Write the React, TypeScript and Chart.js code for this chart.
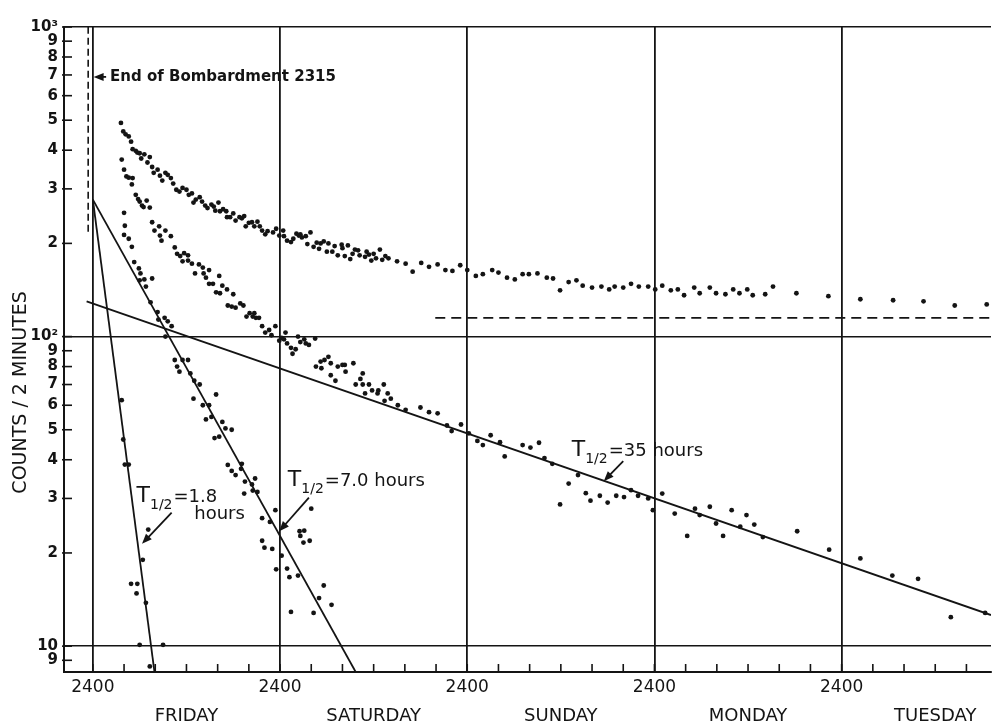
import React, { useEffect, useRef } from 'react';
import { Chart, registerables } from 'chart.js';

Chart.register(...registerables);

// ---------- axis / labels ----------
const DAY_NAMES = ['FRIDAY', 'SATURDAY', 'SUNDAY', 'MONDAY', 'TUESDAY'];
const MIDNIGHT_LABEL = '2400';
const X_MIN = -3.7;
const X_MAX = 115.15;
const Y_MIN = 8.25;
const Y_MAX = 1000;
const X_TICKS = [0, 4, 8, 12, 16, 20, 24, 28, 32, 36, 40, 44, 48, 52, 56, 60, 64, 68, 72, 76, 80, 84, 88, 92, 96, 100, 104, 108, 112];
const Y_TICKS = [9, 10, 20, 30, 40, 50, 60, 70, 80, 90, 100, 200, 300, 400, 500, 600, 700, 800, 900, 1000];
const Y_TITLE = 'COUNTS / 2 MINUTES';

// ---------- data (hours after Thursday 2400, counts / 2 minutes) ----------
const rawHours = [3.6, 3.9, 4.2, 4.6, 4.9, 5.1, 5.5, 5.7, 6.0, 6.2, 6.6, 7.0, 7.3, 7.6, 7.8, 8.3, 8.6, 8.9, 9.3, 9.6, 10.0, 10.3, 10.7, 11.1, 11.5, 12.0, 12.3, 12.7, 12.9, 13.2, 13.7, 14.0, 14.4, 14.7, 15.2, 15.5, 15.7, 16.1, 16.3, 16.7, 17.1, 17.2, 17.6, 18.0, 18.3, 18.8, 19.1, 19.4, 19.6, 20.0, 20.4, 20.7, 21.1, 21.4, 21.7, 22.1, 22.4, 23.1, 23.5, 23.9, 24.4, 24.5, 24.9, 25.4, 25.7, 26.1, 26.4, 26.6, 26.8, 27.3, 27.5, 27.9, 28.3, 28.7, 29.0, 29.2, 29.6, 30.0, 30.2, 30.7, 31.0, 31.4, 31.9, 32.0, 32.3, 32.7, 33.0, 33.3, 33.6, 34.0, 34.2, 34.9, 35.1, 35.4, 35.7, 36.0, 36.3, 36.8, 37.1, 37.5, 37.9, 39.0, 40.1, 41.0, 42.1, 43.1, 44.2, 45.2, 46.1, 47.1, 48.0, 49.1, 50.0, 51.2, 52.0, 53.1, 54.1, 55.1, 55.9, 57.0, 58.2, 59.0, 59.9, 61.0, 62.0, 62.8, 64.0, 65.2, 66.2, 66.9, 68.0, 69.0, 70.0, 71.2, 72.1, 73.0, 74.1, 75.0, 75.8, 77.1, 77.8, 79.1, 79.9, 81.1, 82.1, 82.9, 83.9, 84.6, 86.2, 87.2, 90.2, 94.3, 98.4, 102.6, 106.5, 110.5, 114.6];
const rawCounts = [490, 460, 450, 443, 426, 403, 398, 393, 391, 376, 388, 365, 380, 353, 338, 346, 331, 319, 338, 333, 325, 312, 298, 294, 302, 298, 287, 290, 271, 277, 282, 273, 265, 260, 267, 263, 255, 271, 254, 258, 254, 243, 243, 250, 237, 243, 241, 245, 227, 233, 234, 227, 235, 227, 220, 214, 219, 217, 223, 212, 220, 211, 204, 202, 207, 215, 212, 214, 209, 211, 199, 217, 195, 201, 192, 200, 203, 188, 200, 188, 196, 183, 198, 193, 182, 197, 178, 185, 191, 190, 183, 181, 188, 184, 176, 185, 179, 191, 177, 182, 179, 175, 172, 162, 173, 168, 171, 164, 163, 170, 164, 157, 159, 164, 161, 155, 153, 159, 159, 160, 155, 154, 141, 150, 152, 146, 144, 145, 142, 145, 144, 148, 145, 145, 142, 146, 141, 142, 136, 144, 138, 144, 138, 137, 142, 138, 142, 136, 137, 145, 138, 135, 132, 131, 130, 126, 127];

const netHours = [3.7, 4.0, 4.3, 4.6, 5.1, 5.0, 5.5, 5.8, 6.0, 6.3, 6.9, 7.3, 6.5, 7.6, 7.9, 8.5, 8.6, 8.8, 9.3, 10.0, 10.5, 10.8, 11.2, 11.7, 12.2, 11.5, 12.2, 12.7, 13.1, 13.6, 14.1, 14.2, 14.5, 14.9, 14.9, 15.4, 15.8, 16.2, 16.3, 16.6, 17.2, 18.0, 17.3, 17.8, 18.3, 18.9, 19.3, 19.7, 20.1, 20.5, 20.7, 20.9, 21.3, 21.7, 22.1, 22.6, 22.9, 23.4, 23.9, 24.2, 24.5, 24.7, 24.9, 25.4, 25.6, 26.0, 26.3, 26.6, 27.1, 27.3, 27.7, 28.5, 28.6, 29.3, 29.2, 29.7, 30.2, 30.5, 30.5, 31.1, 31.4, 32.0, 32.3, 32.4, 33.4, 33.7, 34.3, 34.6, 34.6, 34.9, 35.4, 35.8, 36.6, 36.5, 37.3, 37.4, 37.8, 38.2, 39.1, 40.1, 42.0, 43.1, 44.2, 45.4, 46.0, 47.2, 48.2, 49.3, 50.0, 51.0, 52.2, 52.8, 55.1, 56.1, 57.2, 57.9, 58.9, 59.9, 61.0, 62.2, 63.2, 63.8, 65.0, 66.0, 67.1, 68.1, 69.0, 69.9, 71.2, 71.8, 73.0, 74.6, 76.2, 77.2, 77.8, 79.1, 79.9, 80.8, 81.9, 83.0, 83.8, 84.8, 85.9, 90.3, 94.4, 98.4, 102.5, 105.8, 110.0, 114.4];
const netCounts = [373, 346, 329, 326, 325, 310, 287, 278, 273, 265, 275, 261, 262, 234, 220, 227, 212, 204, 220, 211, 194, 185, 182, 186, 183, 175, 176, 172, 160, 171, 167, 160, 155, 164, 148, 148, 139, 157, 138, 146, 142, 137, 126, 125, 124, 128, 126, 116, 119, 116, 119, 115, 115, 108, 103, 105, 101, 108, 97, 99, 98, 103, 95, 92, 88, 91, 100, 96, 98, 95, 94, 98.5, 80, 79, 83, 84, 86, 82, 75, 72, 80, 81, 81, 77, 82, 70, 73, 76, 70, 65.5, 70, 67, 67, 65.5, 70, 62, 65.5, 63, 60, 58, 59, 57, 56.5, 51.6, 49.5, 52, 48.7, 46, 44.6, 48, 45.6, 41, 44.6, 43.8, 45.4, 40.5, 38.8, 28.7, 33.5, 35.7, 31.2, 29.5, 30.6, 29.1, 30.6, 30.3, 31.9, 30.6, 30.0, 27.5, 31.1, 26.8, 22.7, 27.8, 26.5, 28.2, 24.9, 22.7, 27.5, 24.3, 26.5, 24.7, 22.5, 23.5, 20.5, 19.2, 16.9, 16.5, 12.4, 12.8];

const shortHours = [4.0, 4.1, 4.0, 4.6, 5.0, 5.3, 5.9, 6.1, 6.0, 6.6, 6.8, 7.6, 7.4, 8.3, 8.4, 9.2, 9.6, 10.1, 9.3, 10.5, 10.8, 11.1, 11.5, 12.2, 12.5, 13.0, 13.7, 12.9, 14.1, 14.9, 15.8, 14.5, 15.2, 16.6, 17.0, 17.8, 15.6, 16.2, 17.3, 17.8, 18.3, 19.1, 19.0, 19.5, 20.4, 20.8, 19.4, 20.5, 21.1, 23.4, 21.7, 22.7, 21.7, 22.0, 23.0, 24.2, 23.5, 24.9, 25.2, 26.3, 25.4, 28.0, 26.5, 27.1, 26.6, 27.8, 27.0, 29.6, 29.0, 30.6, 28.3];
const shortCounts = [251, 228, 213, 207, 195, 174, 166, 160, 152, 153, 145, 154, 129, 120, 113.5, 115, 112, 108, 100, 84, 80, 77, 84, 84, 76, 72, 70, 63, 60, 60, 65, 54, 55, 53, 50.5, 50, 47, 47.5, 38.5, 36.8, 35.7, 38.8, 37.4, 34, 33.3, 34.8, 31.1, 31.8, 31.5, 27.5, 25.9, 25.2, 21.9, 20.8, 20.6, 19.6, 17.7, 17.8, 16.7, 16.9, 12.9, 27.8, 23.5, 23.6, 22.7, 21.9, 21.6, 15.7, 14.3, 13.6, 12.8];

const fastHours = [3.7, 3.9, 4.1, 4.6, 4.9, 5.7, 5.6, 6.4, 7.1, 6.8, 6.0, 9.0, 7.3];
const fastCounts = [62.3, 46.5, 38.6, 38.6, 15.9, 15.9, 14.8, 19.0, 23.8, 13.8, 10.1, 10.1, 8.6];

// fitted decay lines and reference lines
const fit35Hours = [-0.8, 115.15];
const fit35Counts = [130, 12.6];
const fit7Hours = [0, 33.7];
const fit7Counts = [277, 8.25];
const fit18Hours = [0, 7.9];
const fit18Counts = [277, 8.25];
const backgroundHours = [43.9, 115.15];
const backgroundCounts = [115, 115];
const bombardmentHours = [-0.6, -0.6];
const bombardmentCounts = [218, 1000];

const INK = '#141414';
const FONT = '"DejaVu Sans", "Liberation Sans", sans-serif';

const toPoints = (xs: number[], ys: number[]) => xs.map((x, i) => ({ x, y: ys[i] }));
const isDecade = (v: number) => v === 10 || v === 100 || v === 1000;

function drawArrow(ctx: CanvasRenderingContext2D, x1: number, y1: number, x2: number, y2: number) {
  const ang = Math.atan2(y2 - y1, x2 - x1);
  const head = 10;
  const half = 4;
  ctx.beginPath();
  ctx.moveTo(x1, y1);
  ctx.lineTo(x2 - Math.cos(ang) * head * 0.7, y2 - Math.sin(ang) * head * 0.7);
  ctx.stroke();
  ctx.beginPath();
  ctx.moveTo(x2, y2);
  ctx.lineTo(x2 - head * Math.cos(ang) + half * Math.sin(ang), y2 - head * Math.sin(ang) - half * Math.cos(ang));
  ctx.lineTo(x2 - head * Math.cos(ang) - half * Math.sin(ang), y2 - head * Math.sin(ang) + half * Math.cos(ang));
  ctx.closePath();
  ctx.fill();
}

const halfLifeLabels = [
  { h: 5.6, v: 29.2, rest: '=1.8' },
  { h: 25.0, v: 32.8, rest: '=7.0 hours' },
  { h: 61.4, v: 41.0, rest: '=35 hours' },
];
const arrows = [
  { h1: 10.1, v1: 27.0, h2: 6.3, v2: 21.4 },
  { h1: 27.7, v1: 30.2, h2: 23.9, v2: 23.5 },
  { h1: 68.0, v1: 39.6, h2: 65.5, v2: 34.1 },
  { h1: 1.7, v1: 690, h2: 0.1, v2: 690 },
];

const decorPlugin = {
  id: 'decor',
  afterDraw(chart: any) {
    const { ctx, chartArea: a, scales } = chart;
    const x = scales.x;
    const y = scales.y;
    ctx.save();
    ctx.strokeStyle = INK;
    ctx.fillStyle = INK;
    // inward tick marks
    ctx.lineWidth = 1.6;
    x.ticks.forEach((t: any) => {
      const p = x.getPixelForValue(t.value);
      ctx.beginPath();
      ctx.moveTo(p, a.bottom);
      ctx.lineTo(p, a.bottom - 8);
      ctx.stroke();
    });
    y.ticks.forEach((t: any) => {
      const p = y.getPixelForValue(t.value);
      ctx.beginPath();
      ctx.moveTo(a.left - 2, p);
      ctx.lineTo(a.left + 8, p);
      ctx.stroke();
    });
    // y title
    ctx.save();
    ctx.translate(21, y.getPixelForValue(66));
    ctx.rotate(-Math.PI / 2);
    ctx.textAlign = 'center';
    ctx.textBaseline = 'middle';
    ctx.font = `19px ${FONT}`;
    ctx.fillText(Y_TITLE, 0, 0);
    ctx.restore();
    // half-life labels
    ctx.textBaseline = 'alphabetic';
    ctx.textAlign = 'left';
    halfLifeLabels.forEach((l) => {
      let px = x.getPixelForValue(l.h);
      const py = y.getPixelForValue(l.v);
      ctx.font = `22px ${FONT}`;
      ctx.fillText('T', px, py);
      px += ctx.measureText('T').width;
      ctx.font = `14px ${FONT}`;
      ctx.fillText('1/2', px, py + 7);
      px += ctx.measureText('1/2').width + 1;
      ctx.font = `18px ${FONT}`;
      ctx.fillText(l.rest, px, py);
    });
    ctx.font = `18px ${FONT}`;
    ctx.fillText('hours', x.getPixelForValue(13.0), y.getPixelForValue(25.7));
    // bombardment note
    ctx.font = `bold 15px ${FONT}`;
    ctx.textBaseline = 'middle';
    ctx.fillText('End of Bombardment 2315', x.getPixelForValue(2.2), y.getPixelForValue(690));
    // arrows
    ctx.lineWidth = 1.8;
    arrows.forEach((r) => {
      drawArrow(ctx, x.getPixelForValue(r.h1), y.getPixelForValue(r.v1), x.getPixelForValue(r.h2), y.getPixelForValue(r.v2));
    });
    ctx.restore();
  },
};

const pointStyle = {
  type: 'scatter' as const,
  pointRadius: 2.4,
  pointBackgroundColor: INK,
  pointBorderWidth: 0,
  showLine: false,
};
const lineStyle = (dash: number[] = []) => ({
  type: 'line' as const,
  showLine: true,
  borderColor: INK,
  borderWidth: 1.8,
  borderDash: dash,
  pointRadius: 0,
  fill: false,
  tension: 0,
});

export default function App() {
  const ref = useRef<HTMLCanvasElement | null>(null);
  useEffect(() => {
    if (!ref.current) return;
    const chart = new Chart(ref.current, {
      type: 'scatter',
      data: {
        datasets: [
          { ...lineStyle(), data: toPoints(fit35Hours, fit35Counts) },
          { ...lineStyle(), data: toPoints(fit7Hours, fit7Counts) },
          { ...lineStyle(), data: toPoints(fit18Hours, fit18Counts) },
          { ...lineStyle([10, 6]), data: toPoints(backgroundHours, backgroundCounts) },
          { ...lineStyle([7, 4]), borderWidth: 1.6, data: toPoints(bombardmentHours, bombardmentCounts) },
          { ...pointStyle, data: toPoints(rawHours, rawCounts) },
          { ...pointStyle, data: toPoints(netHours, netCounts) },
          { ...pointStyle, data: toPoints(shortHours, shortCounts) },
          { ...pointStyle, data: toPoints(fastHours, fastCounts) },
        ] as any,
      },
      options: {
        animation: false,
        responsive: false,
        layout: { padding: { top: 27, left: 0, right: 0, bottom: 0 } },
        plugins: { legend: { display: false }, tooltip: { enabled: false } },
        scales: {
          x: {
            type: 'linear',
            position: 'bottom',
            weight: 0,
            min: X_MIN,
            max: X_MAX,
            afterBuildTicks: (s: any) => {
              s.ticks = X_TICKS.map((v) => ({ value: v }));
            },
            afterFit: (s: any) => {
              s.height = 24;
            },
            ticks: {
              autoSkip: false,
              maxRotation: 0,
              padding: 5,
              color: INK,
              font: { family: FONT, size: 17 },
              callback: (v: any) => (Number(v) % 24 === 0 ? MIDNIGHT_LABEL : ''),
            },
            grid: {
              drawTicks: false,
              color: (c: any) => (c.tick && c.tick.value % 24 === 0 ? INK : 'rgba(0,0,0,0)'),
              lineWidth: 1.8,
            },
            border: { color: INK, width: 2 },
          },
          x2: {
            type: 'linear',
            position: 'bottom',
            weight: 1,
            min: X_MIN,
            max: X_MAX,
            afterBuildTicks: (s: any) => {
              s.ticks = DAY_NAMES.map((_, i) => ({ value: i * 24 + 12 }));
            },
            afterFit: (s: any) => {
              s.height = 31;
            },
            ticks: {
              autoSkip: false,
              maxRotation: 0,
              padding: 10,
              color: INK,
              font: { family: FONT, size: 18 },
              callback: (v: any) => DAY_NAMES[Math.round((Number(v) - 12) / 24)] || '',
            },
            grid: { display: false, drawTicks: false },
            border: { display: false },
          },
          y: {
            type: 'logarithmic',
            min: Y_MIN,
            max: Y_MAX,
            afterBuildTicks: (s: any) => {
              s.ticks = Y_TICKS.map((v) => ({ value: v, major: isDecade(v) }));
            },
            afterFit: (s: any) => {
              s.width = 64;
            },
            ticks: {
              autoSkip: false,
              padding: 6,
              color: INK,
              font: { family: FONT, size: 15, weight: 'bold' },
              callback: (v: any) => {
                const n = Number(v);
                if (n === 1000) return '10³';
                if (n === 100) return '10²';
                if (n === 10) return '10';
                return String(Math.round(n / Math.pow(10, Math.floor(Math.log10(n) + 1e-9))));
              },
            },
            grid: {
              drawTicks: false,
              color: (c: any) => (c.tick && isDecade(c.tick.value) ? INK : 'rgba(0,0,0,0)'),
              lineWidth: 1.6,
            },
            border: { color: INK, width: 2 },
          },
        },
      } as any,
      plugins: [decorPlugin],
    });
    return () => chart.destroy();
  }, []);
  return (
    <div style={{ position: 'fixed', left: 0, top: 0, width: 995, height: 727, background: '#fff' }}>
      <canvas ref={ref} width={995} height={727} style={{ display: 'block' }} />
    </div>
  );
}
